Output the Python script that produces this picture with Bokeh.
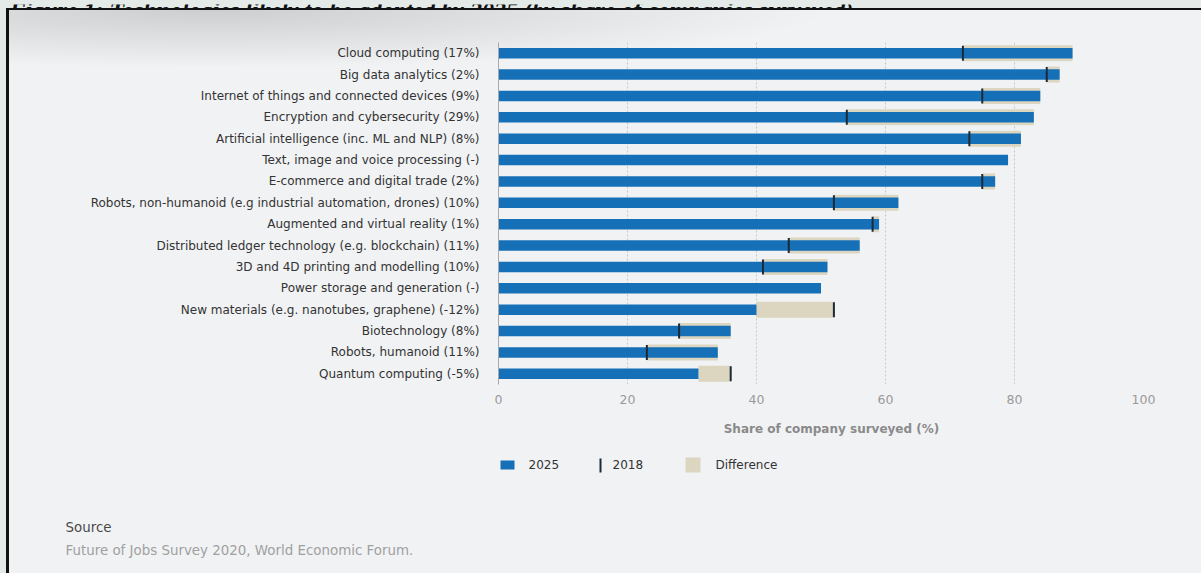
from bokeh.plotting import figure
from bokeh.layouts import column
from bokeh.models import Range1d, FactorRange, FixedTicker
from bokeh.core.properties import value
from bokeh.embed import file_html
from bokeh.resources import INLINE

# ---------------- data ----------------
categories = [
    "Cloud computing (17%)",
    "Big data analytics (2%)",
    "Internet of things and connected devices (9%)",
    "Encryption and cybersecurity (29%)",
    "Artificial intelligence (inc. ML and NLP) (8%)",
    "Text, image and voice processing (-)",
    "E-commerce and digital trade (2%)",
    "Robots, non-humanoid (e.g industrial automation, drones) (10%)",
    "Augmented and virtual reality (1%)",
    "Distributed ledger technology (e.g. blockchain) (11%)",
    "3D and 4D printing and modelling (10%)",
    "Power storage and generation (-)",
    "New materials (e.g. nanotubes, graphene) (-12%)",
    "Biotechnology (8%)",
    "Robots, humanoid (11%)",
    "Quantum computing (-5%)",
]
share_2025 = [89, 87, 84, 83, 81, 79, 77, 62, 59, 56, 51, 50, 40, 36, 34, 31]
share_2018 = [72, 85, 75, 54, 73, None, 75, 52, 58, 45, 41, None, 52, 28, 23, 36]
x_ticks = [0, 20, 40, 60, 80, 100]
legend_labels = ["2025", "2018", "Difference"]
title_text = "Figure 1: Technologies likely to be adopted by 2025 (by share of companies surveyed)"
axis_title = "Share of company surveyed (%)"
source_title = "Source"
source_text = "Future of Jobs Survey 2020, World Economic Forum."

# ---------------- style ----------------
BLUE = "#1670b8"
BEIGE = "#dcd5bf"
DARK = "#1c2a38"
FONT = value("DejaVu Sans")
W = 1201


def bare(h, y0, y1):
    f = figure(width=W, height=h, x_range=Range1d(0, W), y_range=Range1d(y1, y0),
               x_axis_type=None, y_axis_type=None, output_backend="svg",
               toolbar_location=None, min_border=0, outline_line_color=None,
               background_fill_alpha=0, border_fill_alpha=0, frame_align=False)
    f.grid.visible = False
    return f


# ---------------- header (title, mostly cut off as in the source) ----------------
hdr = bare(8, 0, 8)
hdr.text(x=[9], y=[5], text=[title_text], text_baseline="alphabetic",
         text_font=value("Liberation Serif"), text_font_style="bold italic",
         text_font_size="24px", text_color="#111111")

# ---------------- main chart ----------------
p = figure(width=W, height=412,
           y_range=FactorRange(factors=categories[::-1]),
           x_range=Range1d(0, 100),
           output_backend="svg", toolbar_location=None,
           min_border_left=498, min_border_right=58,
           min_border_top=34, min_border_bottom=36,
           background_fill_alpha=0, border_fill_alpha=0,
           outline_line_color=None, frame_align=False)

d_cats, d_left, d_right, m_cats, m_x = [], [], [], [], []
for c, a, b in zip(categories, share_2025, share_2018):
    if b is None:
        continue
    d_cats.append(c)
    d_left.append(min(a, b))
    d_right.append(max(a, b))
    m_cats.append(c)
    m_x.append(b)

p.hbar(y=d_cats, left=d_left, right=d_right, height=0.75,
       fill_color=BEIGE, line_color=None)
p.hbar(y=categories, left=0, right=share_2025, height=0.49,
       fill_color=BLUE, line_color=None)
p.rect(x=m_x, y=m_cats, width=2, width_units="screen", height=0.7,
       fill_color=DARK, line_color=None)

p.xaxis.ticker = FixedTicker(ticks=x_ticks)
p.xaxis.axis_line_color = None
p.xaxis.major_tick_line_color = None
p.xaxis.minor_tick_line_color = None
p.xaxis.major_tick_out = 0
p.xaxis.major_tick_in = 0
p.xaxis.major_label_standoff = 10
p.xaxis.major_label_text_font = "DejaVu Sans"
p.xaxis.major_label_text_font_size = "12.5px"
p.xaxis.major_label_text_color = "#9a9a9a"

p.yaxis.axis_line_color = "#a9a9a9"
p.yaxis.axis_line_width = 1
p.yaxis.major_tick_line_color = None
p.yaxis.minor_tick_line_color = None
p.yaxis.major_tick_out = 0
p.yaxis.major_tick_in = 0
p.yaxis.major_label_standoff = 19
p.yaxis.major_label_text_font = "DejaVu Sans"
p.yaxis.major_label_text_font_size = "12px"
p.yaxis.major_label_text_color = "#333333"

p.ygrid.grid_line_color = None
p.xgrid.ticker = FixedTicker(ticks=x_ticks[1:])
p.xgrid.grid_line_color = "#c6c6c6"
p.xgrid.grid_line_dash = "2 2"
p.xgrid.grid_line_width = 1

# ---------------- footer: axis title, legend, source ----------------
ft = bare(153, 420, 573)
ft.text(x=[831], y=[428], text=[axis_title], text_align="center",
        text_baseline="middle", text_font=FONT, text_font_style="bold",
        text_font_size="12px", text_color="#8a8a8a")
# legend swatches
ft.rect(x=[507], y=[464.5], width=14, height=9, fill_color=BLUE, line_color=None)
ft.rect(x=[600], y=[465], width=2, height=14, fill_color=DARK, line_color=None)
ft.rect(x=[692.5], y=[464.5], width=15, height=15, fill_color=BEIGE, line_color=None)
ft.text(x=[528, 612, 715], y=[464, 464, 464], text=legend_labels,
        text_baseline="middle", text_font=FONT, text_font_size="12px",
        text_color="#333333")
ft.text(x=[65], y=[527], text=[source_title], text_baseline="middle",
        text_font=FONT, text_font_size="13.4px", text_color="#4a4a4a")
ft.text(x=[65], y=[550], text=[source_text], text_baseline="middle",
        text_font=FONT, text_font_size="13.4px", text_color="#a0a0a0")

# page background: outer strip, black frame corner, top-left shadow
bg = ", ".join([
    "linear-gradient(#e3eae8, #e3eae8) 0 0 / 6px 100% no-repeat",
    "linear-gradient(#e3eae8, #e3eae8) 0 0 / 100% 8px no-repeat",
    "linear-gradient(#111111, #111111) 6px 8px / 3px 100% no-repeat",
    "linear-gradient(#111111, #111111) 6px 8px / 100% 2px no-repeat",
    "radial-gradient(ellipse 620px 58px at 210px 10px, rgba(0,0,0,0.15), rgba(0,0,0,0)) 0 0 / 100% 100% no-repeat",
    "#f1f2f4",
])
layout = column(hdr, p, ft, spacing=0, styles={"background": bg})

open("out.html", "w").write(file_html(layout, INLINE))
